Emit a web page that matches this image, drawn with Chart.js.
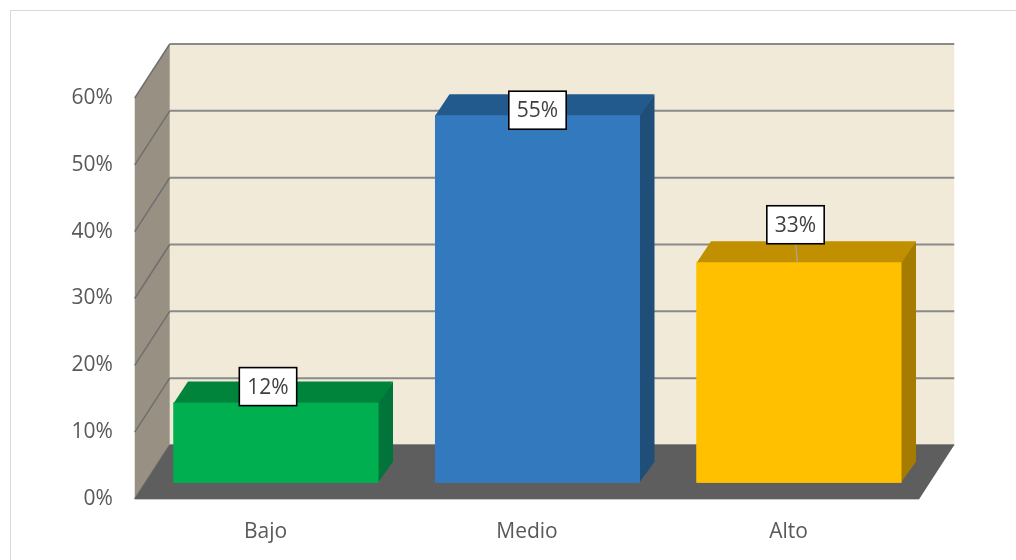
<!DOCTYPE html>
<html><head><meta charset="utf-8">
<script src="https://cdn.jsdelivr.net/npm/chart.js@4.4.1/dist/chart.umd.min.js"></script>
<style>html,body{margin:0;padding:0;background:#fff;overflow:hidden;}</style>
</head><body>
<canvas id="c" width="1016" height="560"></canvas>
<script>
// ---- data ----
const categories = ['Bajo', 'Medio', 'Alto'];
const values = [12, 55, 33];
const tickValues = [0, 10, 20, 30, 40, 50, 60];
const tickLabels = ['0%', '10%', '20%', '30%', '40%', '50%', '60%'];

// ---- styles ----
const frontColors = ['#00b050', '#3379bd', '#ffc000'];
const topColors   = ['#00843c', '#225a8e', '#c09000'];
const sideColors  = ['#00743a', '#1f4e79', '#a67c00'];
const labelShift  = [[-8, -16], [0, -5], [-3.5, -37.5]];

const DEPTH = { dx: 35, dy: -54 };      // floor / wall depth
const BAR_POS = 0.3;                    // bar front position inside depth
const BAR_DEPTH = { dx: 14.5, dy: -21 };// depth of each bar
const FONT = "'Open Sans', sans-serif";
const FONT_SIZE = 21;

const threeD = {
  id: 'threeD',
  beforeDraw(chart) {
    const ctx = chart.ctx;
    ctx.save();
    ctx.fillStyle = '#ffffff';
    ctx.fillRect(0, 0, chart.width, chart.height);
    ctx.strokeStyle = '#d9d9d9';
    ctx.lineWidth = 1;
    ctx.strokeRect(10.5, 10.5, chart.width - 2, chart.height + 20);
    ctx.restore();
  },
  beforeDatasetsDraw(chart) {
    const { ctx, chartArea: a, scales: { y } } = chart;
    const fl = a.left, fr = a.right;
    const y0 = y.getPixelForValue(y.min), yt = y.getPixelForValue(y.max);
    const { dx, dy } = DEPTH;
    ctx.save();
    // back wall
    ctx.fillStyle = '#f2ead8';
    ctx.fillRect(fl + dx, yt + dy, fr - fl, y0 - yt);
    // side wall
    ctx.fillStyle = '#989183';
    ctx.beginPath();
    ctx.moveTo(fl, y0); ctx.lineTo(fl, yt); ctx.lineTo(fl + dx, yt + dy); ctx.lineTo(fl + dx, y0 + dy);
    ctx.closePath(); ctx.fill();
    // gridlines
    y.ticks.forEach(t => {
      const py = y.getPixelForValue(t.value);
      ctx.strokeStyle = '#8a8a8a';
      ctx.lineWidth = 2;
      ctx.beginPath();
      ctx.moveTo(fl + dx, py + dy); ctx.lineTo(fr + dx, py + dy);
      ctx.stroke();
      ctx.strokeStyle = '#6f6f6f';
      ctx.lineWidth = 1.5;
      ctx.beginPath();
      ctx.moveTo(fl, py); ctx.lineTo(fl + dx, py + dy);
      ctx.stroke();
    });
    // floor
    ctx.fillStyle = '#5e5e5e';
    ctx.beginPath();
    ctx.moveTo(fl, y0); ctx.lineTo(fl + dx, y0 + dy); ctx.lineTo(fr + dx, y0 + dy); ctx.lineTo(fr, y0);
    ctx.closePath(); ctx.fill();
    ctx.strokeStyle = '#c8c8c8';
    ctx.lineWidth = 1;
    ctx.beginPath(); ctx.moveTo(fl, y0 + 0.5); ctx.lineTo(fr, y0 + 0.5); ctx.stroke();
    ctx.restore();
    // shift bars into the depth of the plot
    ctx.save();
    ctx.translate(BAR_POS * dx, BAR_POS * dy);
  },
  afterDatasetsDraw(chart) {
    const ctx = chart.ctx;
    ctx.restore();
    const ox = BAR_POS * DEPTH.dx, oy = BAR_POS * DEPTH.dy;
    const meta = chart.getDatasetMeta(0);
    ctx.save();
    meta.data.forEach((bar, i) => {
      const p = bar.getProps(['x', 'y', 'base', 'width'], true);
      const L = p.x - p.width / 2 + ox, R = p.x + p.width / 2 + ox;
      const T = p.y + oy, B = p.base + oy;
      const { dx, dy } = BAR_DEPTH;
      ctx.fillStyle = sideColors[i];
      ctx.beginPath();
      ctx.moveTo(R - 0.8, T); ctx.lineTo(R + dx, T + dy); ctx.lineTo(R + dx, B + dy); ctx.lineTo(R - 0.8, B);
      ctx.closePath(); ctx.fill();
      ctx.fillStyle = topColors[i];
      ctx.beginPath();
      ctx.moveTo(L, T + 0.8); ctx.lineTo(R, T + 0.8); ctx.lineTo(R + dx, T + dy); ctx.lineTo(L + dx, T + dy);
      ctx.closePath(); ctx.fill();
      // redraw the front edge crisp
      ctx.fillStyle = frontColors[i];
      ctx.fillRect(L, T, R - L, B - T);
    });
    // data labels
    ctx.font = FONT_SIZE + 'px ' + FONT;
    ctx.textAlign = 'center';
    ctx.textBaseline = 'middle';
    meta.data.forEach((bar, i) => {
      const p = bar.getProps(['x', 'y'], true);
      const bx = p.x + ox, by = p.y + oy;
      const cx = bx + labelShift[i][0], cy = by + labelShift[i][1];
      const txt = values[i] + '%';
      const w = ctx.measureText(txt).width + 16, h = 38;
      if (Math.abs(labelShift[i][1]) > 30) {
        ctx.strokeStyle = '#a6a6a6';
        ctx.lineWidth = 1.2;
        ctx.beginPath(); ctx.moveTo(cx, cy + h / 2); ctx.lineTo(bx - 1.5, by); ctx.stroke();
      }
      ctx.fillStyle = '#ffffff';
      ctx.fillRect(cx - w / 2, cy - h / 2, w, h);
      ctx.strokeStyle = '#000000';
      ctx.lineWidth = 1.6;
      ctx.strokeRect(cx - w / 2, cy - h / 2, w, h);
      ctx.fillStyle = '#404040';
      ctx.fillText(txt, cx, cy + 1);
    });
    ctx.restore();
  }
};

new Chart(document.getElementById('c'), {
  type: 'bar',
  data: {
    labels: categories,
    datasets: [{
      data: values,
      backgroundColor: frontColors,
      borderWidth: 0,
      categoryPercentage: 1,
      barPercentage: 0.784
    }]
  },
  options: {
    responsive: false,
    animation: false,
    events: [],
    layout: { padding: { left: 0, top: 98, right: 96.75, bottom: 0 } },
    plugins: { legend: { display: false }, tooltip: { enabled: false } },
    scales: {
      x: {
        grid: { display: false }, border: { display: false },
        ticks: { color: '#595959', font: { family: FONT, size: FONT_SIZE }, padding: 12 },
        afterFit: s => { s.height = 61; }
      },
      y: {
        min: tickValues[0], max: tickValues[tickValues.length - 1],
        grid: { display: false }, border: { display: false },
        ticks: {
          stepSize: tickValues[1] - tickValues[0],
          color: '#595959', font: { family: FONT, size: FONT_SIZE }, padding: 14,
          callback: (v, i) => tickLabels[i]
        },
        afterFit: s => { s.width = 134.75; }
      }
    }
  },
  plugins: [threeD]
});
</script>
</body></html>
